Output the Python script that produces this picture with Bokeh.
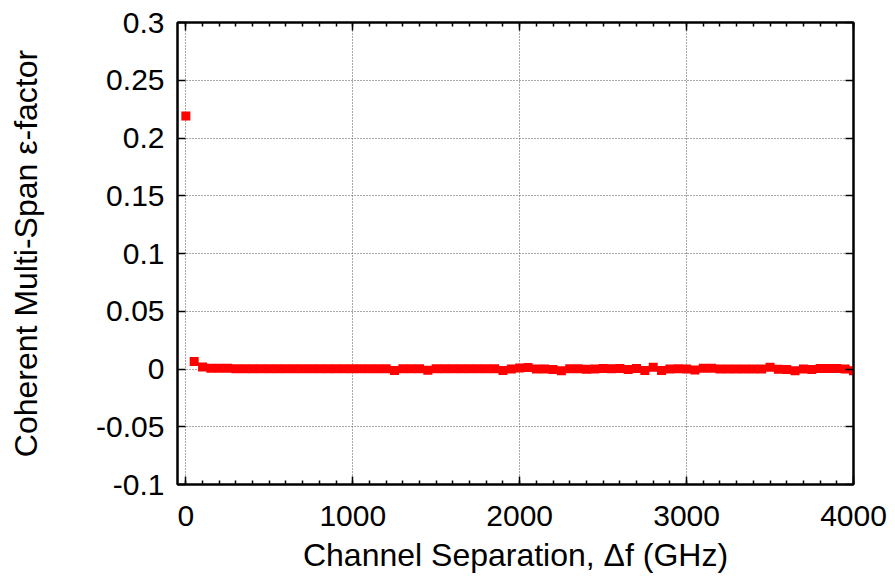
from bokeh.plotting import figure
from bokeh.models import FixedTicker, LinearAxis, Range1d, CustomJSTickFormatter
from bokeh.embed import file_html
from bokeh.resources import INLINE

# Channel separation (GHz) and the coherent multi-span epsilon factor
separation_ghz = list(range(0, 4001, 50))
epsilon = [
    0.219, 0.0065, 0.0018, 0.0006, 0.0006, 0.0006, 0.0002, 0.0002, 0.0002, 0.0002,
    0.0002, 0.0002, 0.0002, 0.0002, 0.0002, 0.0002, 0.0002, 0.0002, 0.0002, 0.0002,
    0.0002, 0.0002, 0.0002, 0.0002, 0.0002, -0.0012, 0.0002, 0.0002, 0.0002, -0.0010,
    0.0002, 0.0002, 0.0002, 0.0002, 0.0002, 0.0002, 0.0002, 0.0002, -0.0012, 0.0000,
    0.0008, 0.0012, 0.0000, 0.0000, -0.0005, -0.0015, 0.0002, 0.0002, -0.0003, 0.0000,
    0.0005, 0.0003, 0.0005, -0.0005, 0.0005, -0.0012, 0.0015, -0.0012, 0.0000, 0.0002,
    0.0000, -0.0008, 0.0006, 0.0006, 0.0000, 0.0000, 0.0000, 0.0000, 0.0000, 0.0000,
    0.0015, -0.0003, -0.0005, -0.0015, 0.0000, -0.0005, 0.0005, 0.0005, 0.0005, 0.0000,
    -0.0015,
]

x_major = [0, 1000, 2000, 3000, 4000]
x_minor = list(range(0, 4001, 100))
y_major = [-0.1, -0.05, 0, 0.05, 0.1, 0.15, 0.2, 0.25, 0.3]
y_labels = ["-0.1", "-0.05", "0", "0.05", "0.1", "0.15", "0.2", "0.25", "0.3"]

FONT = "Liberation Sans"

p = figure(
    width=895, height=588,
    output_backend="svg", toolbar_location=None,
    x_range=Range1d(-50, 4000), y_range=Range1d(-0.1, 0.3),
    min_border_left=177, min_border_right=42,
    min_border_top=22, min_border_bottom=104,
    x_axis_label="Channel Separation, \u0394f (GHz)",
    y_axis_label="Coherent Multi-Span \u03b5-factor",
)
p.background_fill_color = "white"
p.border_fill_color = "white"
p.outline_line_color = "black"
p.outline_line_width = 2

xt = FixedTicker(ticks=x_major, minor_ticks=x_minor)
yt = FixedTicker(ticks=y_major, minor_ticks=[])

def style_axis(ax):
    ax.axis_line_width = 2
    ax.axis_line_color = "black"
    ax.major_tick_in = 8
    ax.major_tick_out = 0
    ax.minor_tick_in = 4
    ax.minor_tick_out = 0
    ax.major_tick_line_width = 1.5
    ax.minor_tick_line_width = 1.5
    ax.major_label_text_font = FONT
    ax.major_label_text_font_size = "30px"
    ax.major_label_text_color = "black"
    ax.axis_label_text_font = FONT
    ax.axis_label_text_font_size = "32px"
    ax.axis_label_text_font_style = "normal"
    ax.axis_label_text_color = "black"

xa = p.xaxis[0]
xa.ticker = xt
style_axis(xa)
xa.major_label_standoff = 21
xa.axis_label_standoff = 8

ya = p.yaxis[0]
ya.ticker = yt
style_axis(ya)
ya.major_label_overrides = {v: s for v, s in zip(y_major, y_labels)}
ya.major_label_standoff = 13
ya.axis_label_standoff = 49

# mirrored tick marks on the top and right edges, without labels
blank = CustomJSTickFormatter(code="return '';")

top = LinearAxis(ticker=xt, formatter=blank)
style_axis(top)
p.add_layout(top, "above")

right = LinearAxis(ticker=yt, formatter=blank)
style_axis(right)
p.add_layout(right, "right")

for g in (p.xgrid[0], p.ygrid[0]):
    g.grid_line_color = "#555555"
    g.grid_line_dash = "1 2"
    g.grid_line_width = 1
p.xgrid[0].ticker = xt
p.ygrid[0].ticker = yt

p.scatter(separation_ghz, epsilon, marker="square", size=9,
          fill_color="#ff0000", line_color="#ff0000", line_width=0)

open("out.html", "w").write(file_html(p, INLINE))
